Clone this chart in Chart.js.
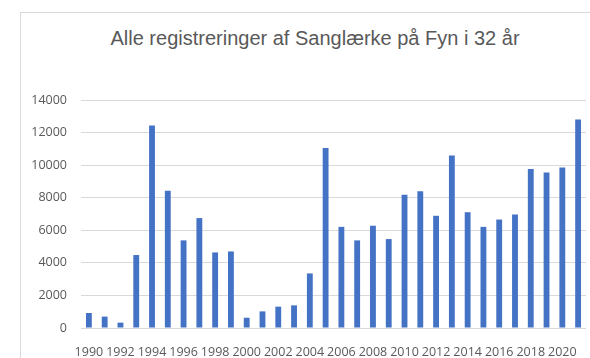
<!DOCTYPE html>
<html>
<head>
<meta charset="utf-8">
<script src="https://cdn.jsdelivr.net/npm/chart.js@4/dist/chart.umd.min.js"></script>
<style>
  html, body { margin: 0; padding: 0; background: #fff; overflow: hidden; }
  #wrap { position: relative; width: 590px; height: 358px; overflow: hidden; }
  #frame { position: absolute; left: 20px; top: 12px; width: 620px; height: 400px; border: 1px solid #d9d9d9; }
  #title { position: absolute; left: 0; top: 27px; width: 630px; text-align: center;
           font-family: "Liberation Sans Narrow", "Liberation Sans", sans-serif; font-size: 20px; color: #595959; }
  canvas { position: absolute; left: 0; top: 0; }
</style>
</head>
<body>
<div id="wrap">
  <div id="frame"></div>
  <div id="title">Alle registreringer af Sanglærke på Fyn i 32 år</div>
  <canvas id="birdChart" width="590" height="358"></canvas>
</div>
<script>
// years 1990-2021
const years = ['1990','1991','1992','1993','1994','1995','1996','1997','1998','1999',
  '2000','2001','2002','2003','2004','2005','2006','2007','2008','2009',
  '2010','2011','2012','2013','2014','2015','2016','2017','2018','2019',
  '2020','2021'];

// registreringer pr. år
const counts = [920, 700, 330, 4480, 12430, 8420, 5380, 6750, 4640, 4700,
  630, 1020, 1310, 1390, 3350, 11060, 6210, 5380, 6280, 5460,
  8180, 8400, 6890, 10590, 7110, 6210, 6660, 6970, 9770, 9550,
  9860, 12800];

const yTicks = [0, 2000, 4000, 6000, 8000, 10000, 12000, 14000];

const tickFont = { family: 'Open Sans', size: 12.5 };

const ctx = document.getElementById('birdChart').getContext('2d');
new Chart(ctx, {
  type: 'bar',
  data: {
    labels: years,
    datasets: [{
      label: 'Sanglærke',
      data: counts,
      backgroundColor: '#4472c4',
      barPercentage: 0.37,
      categoryPercentage: 1
    }]
  },
  options: {
    responsive: false,
    animation: false,
    layout: { padding: { left: 20, right: 4, top: 100, bottom: 0 } },
    plugins: {
      legend: { display: false },
      tooltip: { enabled: false }
    },
    scales: {
      x: {
        grid: { display: false },
        border: { display: false },
        ticks: {
          autoSkip: false,
          maxRotation: 0,
          padding: 9,
          color: '#595959',
          font: tickFont,
          callback: (v, i) => (i % 2 === 0 ? years[i] : '')
        },
        afterFit: s => { s.height = 30; }
      },
      y: {
        min: 0,
        max: yTicks[yTicks.length - 1],
        afterBuildTicks: s => { s.ticks = yTicks.map(v => ({ value: v })); },
        grid: { color: '#d9d9d9', drawTicks: false },
        border: { display: false },
        ticks: {
          padding: 14,
          color: '#595959',
          font: tickFont,
          callback: v => String(v)
        },
        afterFit: s => { s.width = 61; }
      }
    }
  }
});
</script>
</body>
</html>
